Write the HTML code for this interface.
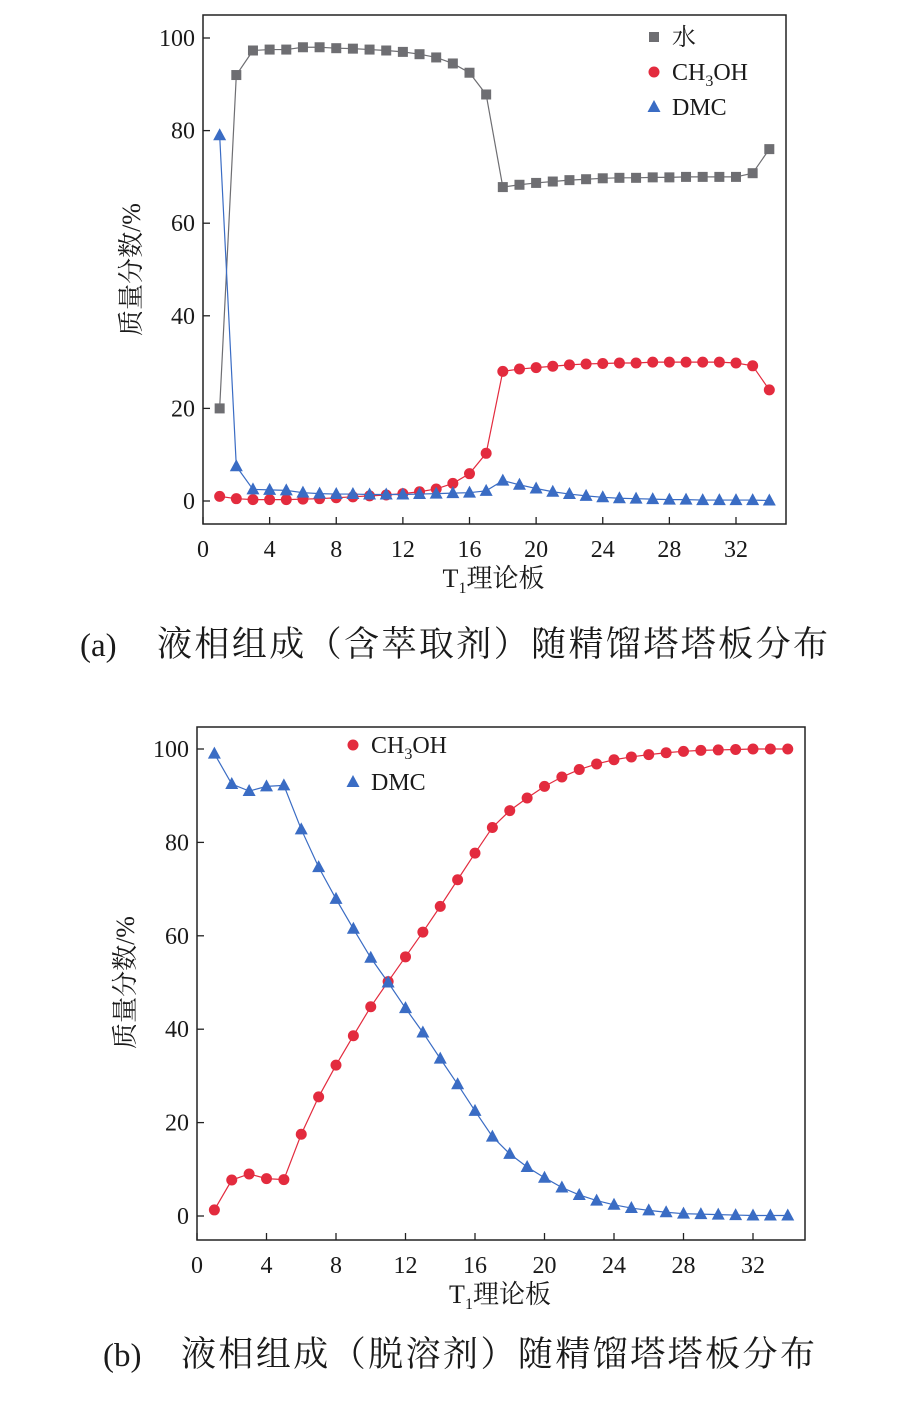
<!DOCTYPE html>
<html><head><meta charset="utf-8">
<style>
body{margin:0;background:#fff;width:907px;height:1418px;overflow:hidden}
svg{display:block}
text{font-family:"Liberation Serif","Noto Serif CJK SC",serif;fill:#1a1a1a}
</style></head>
<body>
<svg id="s" width="907" height="1418"></svg>
<script>
const plates = Array.from({length:34},(_,i)=>i+1);
const xTicks = [0,4,8,12,16,20,24,28,32];
const yTicks = [0,20,40,60,80,100];
const aWater = [20,92,97.3,97.5,97.5,98,98,97.8,97.7,97.5,97.3,97,96.5,95.8,94.5,92.5,87.8,67.8,68.3,68.7,69,69.3,69.5,69.7,69.8,69.8,69.9,69.9,70,70,70,70,70.8,76];
const aMeoh = [1,0.5,0.3,0.3,0.3,0.4,0.5,0.7,0.9,1.1,1.3,1.6,2,2.6,3.8,5.9,10.3,28,28.5,28.8,29.1,29.4,29.6,29.7,29.8,29.8,30,30,30,30,30,29.8,29.2,24];
const aDmc = [79,7.5,2.5,2.4,2.3,1.8,1.6,1.5,1.5,1.4,1.4,1.4,1.5,1.6,1.7,1.8,2.2,4.4,3.5,2.7,2,1.5,1.1,0.8,0.6,0.5,0.4,0.3,0.3,0.2,0.2,0.2,0.2,0.1];
const bMeoh = [1.3,7.7,9,8,7.8,17.5,25.5,32.3,38.6,44.8,50.2,55.5,60.8,66.3,72,77.7,83.2,86.8,89.5,92,94,95.6,96.8,97.7,98.3,98.8,99.2,99.5,99.7,99.8,99.9,100,100,100];
const bDmc = [99,92.5,91,92,92.2,82.8,74.7,67.9,61.5,55.3,50,44.5,39.3,33.7,28.2,22.5,17,13.3,10.5,8.2,6.1,4.5,3.3,2.4,1.7,1.2,0.8,0.5,0.4,0.3,0.2,0.1,0.1,0.1];

const NS="http://www.w3.org/2000/svg";
const svg=document.getElementById('s');
function el(tag,attrs,parent,txt){const e=document.createElementNS(NS,tag);for(const k in attrs)e.setAttribute(k,attrs[k]);if(txt!==undefined)e.textContent=txt;(parent||svg).appendChild(e);return e;}

function chart(cfg){
  const g=el('g',{});
  
  
  const X=v=>cfg.x0+(v)*(cfg.x32-cfg.x0)/32;
  const Y=v=>cfg.y0+(v)*(cfg.y100-cfg.y0)/100;
  const fr=el('rect',{x:cfg.L,y:cfg.T,width:cfg.R-cfg.L,height:cfg.B-cfg.T,fill:'none',stroke:'#222','stroke-width':1.5},g);
  
  
  xTicks.forEach(t=>{
    el('line',{x1:X(t),x2:X(t),y1:cfg.B,y2:cfg.B-7,stroke:'#222','stroke-width':1.3},g);
    const tx=el('text',{x:X(t),y:cfg.B+33,'text-anchor':'middle','font-size':24},g,String(t));
    
    
  });
  yTicks.forEach(t=>{
    el('line',{x1:cfg.L,x2:cfg.L+7,y1:Y(t),y2:Y(t),stroke:'#222','stroke-width':1.3},g);
    const tx=el('text',{x:cfg.L-8,y:Y(t)+8,'text-anchor':'end','font-size':24},g,String(t));
    
    
  });
  const xt=el('text',{x:(cfg.L+cfg.R)/2-1,y:cfg.B+63,'text-anchor':'middle','font-size':26},g);
  
  
  el('tspan',{},xt,'T');el('tspan',{dy:6,'font-size':16},xt,'1');el('tspan',{dy:-6},xt,'理论板');
  const yt=el('text',{x:0,y:0,'text-anchor':'middle','font-size':26,transform:`translate(${cfg.L-63},${Y(50)}) rotate(-90)`},g,'质量分数/%');
  
  
  cfg.series.forEach(s=>{
    const sg=el('g',{},g);
    
    
    el('polyline',{points:s.data.map((v,i)=>X(plates[i])+','+Y(v)).join(' '),fill:'none',stroke:s.color,'stroke-width':1.2},sg);
    s.data.forEach((v,i)=>drawMark(s.shape,X(plates[i]),Y(v),s.color,sg));
  });
  cfg.legend.forEach((lg,i)=>{
    const y=cfg.legY+i*cfg.legDy;
    const lgG=el('g',{},g);
    
    
    drawMark(lg.shape,cfg.legX,y,lg.color,lgG);
    const t=el('text',{x:cfg.legX+18,y:y+8,'font-size':24},lgG);
    if(lg.key==='ch3oh'){el('tspan',{},t,'CH');el('tspan',{dy:6,'font-size':16},t,'3');el('tspan',{dy:-6},t,'OH');}
    else t.textContent=lg.label;
  });
  const cg=el('g',{});
  
  
  el('text',{x:cfg.capX,y:cfg.capY,'font-size':33},cg,cfg.capTag);
  el('text',{x:cfg.capX2,y:cfg.capY,'font-size':35,textLength:cfg.capLen,lengthAdjust:'spacing'},cg,cfg.caption);
}
function drawMark(shape,x,y,c,p){
  if(shape==='sq') el('rect',{x:x-5,y:y-5,width:10,height:10,fill:c},p);
  else if(shape==='ci') el('circle',{cx:x,cy:y,r:5.5,fill:c},p);
  else el('polygon',{points:`${x},${y-7} ${x-6.5},${y+5} ${x+6.5},${y+5}`,fill:c},p);
}
const GRAY='#6e6e72',RED='#e32b3e',BLUE='#3a6cc4';
chart({name:'chart-a',L:203,R:786,T:15,B:524,x0:203,x32:736,y0:501,y100:38,
  series:[{key:'water',data:aWater,color:GRAY,shape:'sq'},{key:'ch3oh',data:aMeoh,color:RED,shape:'ci'},{key:'dmc',data:aDmc,color:BLUE,shape:'tr'}],
  legend:[{key:'water',label:'水',color:GRAY,shape:'sq'},{key:'ch3oh',color:RED,shape:'ci'},{key:'dmc',label:'DMC',color:BLUE,shape:'tr'}],
  legX:654,legY:37,legDy:35,capTag:'(a)',caption:'液相组成（含萃取剂）随精馏塔塔板分布',capX:80,capX2:157,capLen:671,capY:656});
chart({name:'chart-b',L:197,R:805,T:727,B:1240,x0:197,x32:753,y0:1216,y100:749,
  series:[{key:'ch3oh',data:bMeoh,color:RED,shape:'ci'},{key:'dmc',data:bDmc,color:BLUE,shape:'tr'}],
  legend:[{key:'ch3oh',color:RED,shape:'ci'},{key:'dmc',label:'DMC',color:BLUE,shape:'tr'}],
  legX:353,legY:745,legDy:37,capTag:'(b)',caption:'液相组成（脱溶剂）随精馏塔塔板分布',capX:103,capX2:181,capLen:634,capY:1366});
</script>
</body></html>
